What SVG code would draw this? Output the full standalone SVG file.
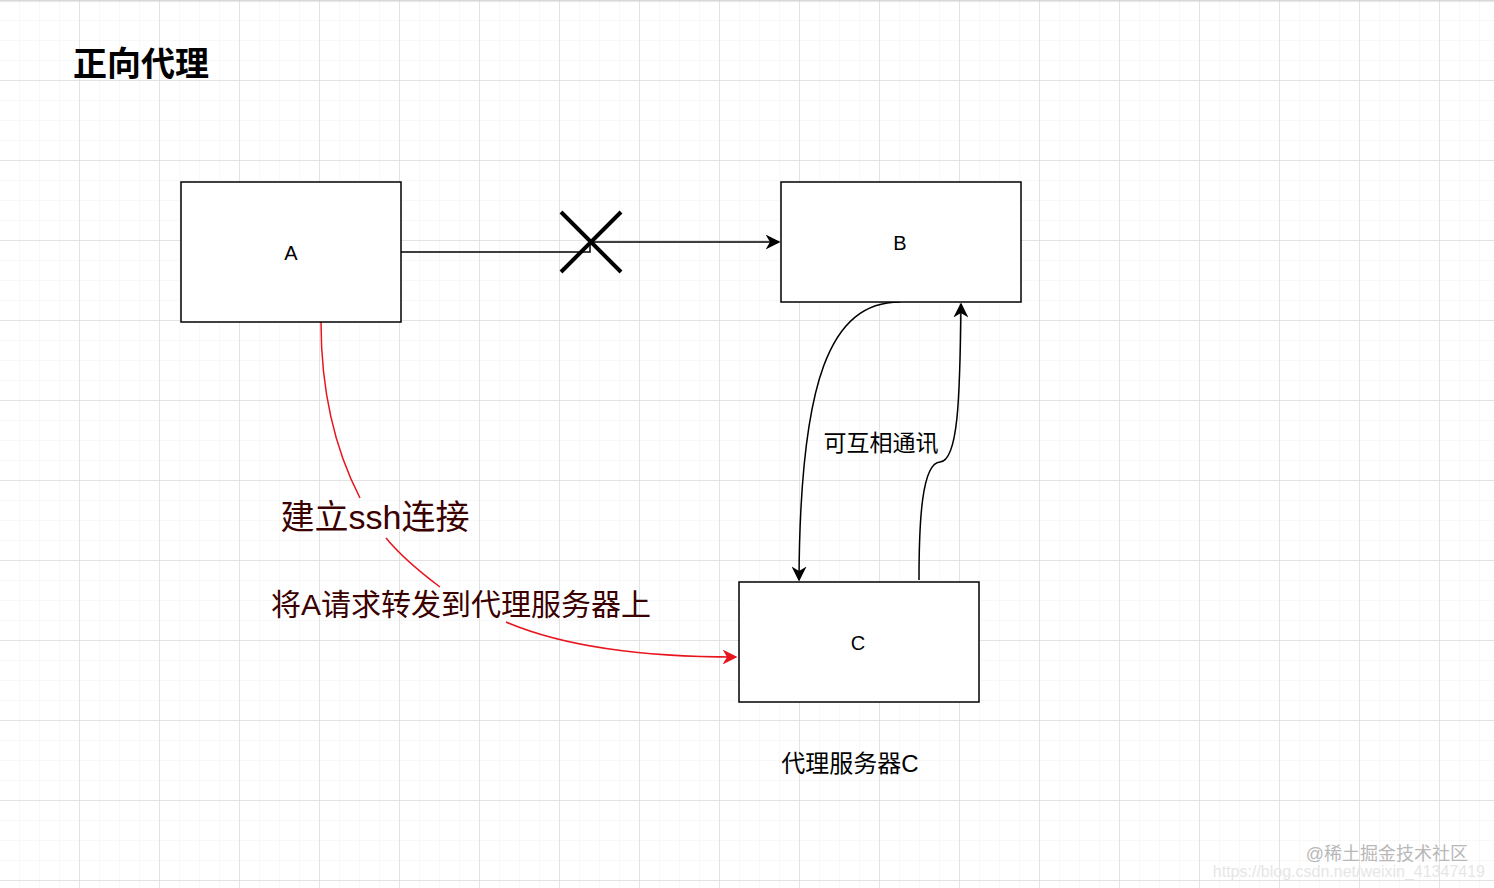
<svg xmlns="http://www.w3.org/2000/svg" width="1494" height="888" viewBox="0 0 1494 888">
<defs>
<pattern id="minor" width="20" height="20" patternUnits="userSpaceOnUse" x="0" y="1"><path d="M20 0V20M0 20H20" fill="none" stroke="#f0f0f0" stroke-width="1"/></pattern>
<pattern id="major" width="80" height="80" patternUnits="userSpaceOnUse" x="0" y="1"><path d="M80 0V80M0 80H80" fill="none" stroke="#cfcfcf" stroke-width="1"/></pattern>
<marker id="ab" viewBox="0 0 10 10" refX="9" refY="5" markerWidth="15" markerHeight="15" markerUnits="userSpaceOnUse" orient="auto"><path d="M0 0L10 5L0 10L3 5Z" fill="#000"/></marker>
<marker id="ar" viewBox="0 0 10 10" refX="9" refY="5" markerWidth="15" markerHeight="15" markerUnits="userSpaceOnUse" orient="auto"><path d="M0 0L10 5L0 10L3 5Z" fill="#e8141e"/></marker>
</defs>
<style>
.box{fill:#fff;stroke:#000;stroke-width:1.5}
.t{font-family:"Liberation Sans","Noto Sans CJK SC",sans-serif;fill:#000}
.c{fill:none;stroke:#000;stroke-width:1.5}
</style>
<rect width="1494" height="888" fill="#fff"/>
<rect width="1494" height="888" fill="url(#minor)"/>
<rect width="1494" height="888" fill="url(#major)"/>
<line x1="0" y1="1" x2="1494" y2="1" stroke="#cfcfcf"/>
<text class="t" x="73" y="76" font-size="34" font-weight="bold">正向代理</text>
<g id="connectors">
<path class="c" d="M401 252H590V242H779" marker-end="url(#ab)"/>
<path d="M561 212L621 272M621 212L561 272" stroke="#000" stroke-width="4"/>
<path class="c" d="M900 302C830 302 800 380 799 580" marker-end="url(#ab)"/>
<path class="c" d="M919 580C919 520 922 463 940 462C958 461 960 400 961 304" marker-end="url(#ab)"/>
<path d="M321 322C321 380 330 440 360 498M386 538C400 555 420 572 440 587M506 622C560 645 640 657 736 657" fill="none" stroke="#e8141e" stroke-width="1.5" marker-end="url(#ar)"/>
</g>
<g id="A"><rect class="box" x="181" y="182" width="220" height="140"/><text class="t" x="291" y="260" font-size="20" text-anchor="middle">A</text></g>
<g id="B"><rect class="box" x="781" y="182" width="240" height="120"/><text class="t" x="900" y="250" font-size="20" text-anchor="middle">B</text></g>
<g id="C"><rect class="box" x="739" y="582" width="240" height="120"/><text class="t" x="858" y="650" font-size="20" text-anchor="middle">C</text></g>
<text class="t" x="881" y="451" font-size="23" text-anchor="middle">可互相通讯</text>
<text class="t" x="375" y="529" font-size="34" text-anchor="middle" style="fill:#3b0000">建立ssh连接</text>
<text class="t" x="461" y="615" font-size="30" text-anchor="middle" style="fill:#3b0000">将A请求转发到代理服务器上</text>
<text class="t" x="850" y="772" font-size="24" text-anchor="middle">代理服务器C</text>
<text class="t" x="1468" y="860" font-size="18" text-anchor="end" style="fill:#b8b8b8">@稀土掘金技术社区</text>
<text class="t" x="1485" y="877" font-size="16" text-anchor="end" style="fill:#e6e6e6">https://blog.csdn.net/weixin_41347419</text>
</svg>
